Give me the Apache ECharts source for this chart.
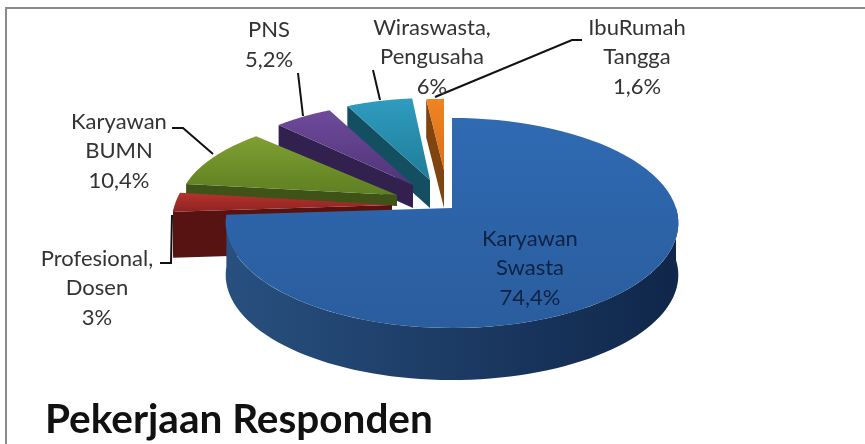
<!DOCTYPE html>
<html>
<head>
<meta charset="utf-8">
<style>html,body{margin:0;padding:0;background:#fff}#main{width:865px;height:444px}</style>
<script src="https://cdn.jsdelivr.net/npm/echarts@6/dist/echarts.min.js"></script>
</head>
<body>
<div id="main"></div>
<script>
var categories = ['Karyawan Swasta', 'Profesional, Dosen', 'Karyawan BUMN', 'PNS', 'Wiraswasta, Pengusaha', 'IbuRumah Tangga']
var values = [74.4, 3, 10.4, 5.2, 6, 1.6]
var labels = ['Karyawan\nSwasta\n74,4%', 'Profesional,\nDosen\n3%', 'Karyawan\nBUMN\n10,4%', 'PNS\n5,2%', 'Wiraswasta,\nPengusaha\n6%', 'IbuRumah\nTangga\n1,6%']
var topColors = [['#2f6ab2', '#2a5d9e'], ['#b5332e', '#8f2320'], ['#7f9f33', '#5f7f22'], ['#6f4a9c', '#4f3478'], ['#2f9cc0', '#1f7c98'], ['#ee8422', '#d9701a']]
var sideColors = ['#1c3d68', '#561311', '#3f5218', '#32204f', '#134f60', '#7f4410']
var labelColors = ['#0f2244', '#333', '#333', '#333', '#333', '#333']
var font = 'Lato, Open Sans, sans-serif'

// apex of each exploded slice, its scale and its thickness
var apex = [[452, 208], [392, 205], [397, 195], [413, 185], [430, 180], [444, 170]]
var scaleX = [1, 0.97, 0.965, 0.92, 0.91, 0.91]
var scaleY = [1, 1, 0.9, 0.92, 0.91, 0.79]
var depths = [52, 46, 11, 23, 28, 38]
// perspective of the old 3D view: far edge 90px, near edge 120px from the apex
var rx = 224, ry = 102.9, persp = 0.1428
var total = values.reduce(function (a, b) { return a + b }, 0)

// start/end angle of each slice, clockwise from the top
var angles = []
values.reduce(function (acc, v) {
  angles.push([acc, acc + v / total * Math.PI * 2])
  return acc + v / total * Math.PI * 2
}, 0)

function pt(i, a, dy) {
  var w = 1 + persp * Math.cos(a)
  return [
    apex[i][0] + rx * scaleX[i] * Math.sin(a) / w,
    apex[i][1] - ry * scaleY[i] * Math.cos(a) / w + (dy || 0)
  ]
}
function arc(i, a0, a1, dy) {
  var pts = []
  for (var k = 0; k <= 80; k++) pts.push(pt(i, a0 + (a1 - a0) * k / 80, dy))
  return pts
}
function grad(c0, c1, horizontal) {
  return new echarts.graphic.LinearGradient(0, 0, horizontal ? 1 : 0, horizontal ? 0 : 1, [
    { offset: 0, color: c0 }, { offset: 1, color: c1 }
  ])
}

function renderSlice(params, api) {
  var i = api.value(0)
  var a = angles[i]
  var d = depths[i]
  var c0 = apex[i], c1 = [c0[0], c0[1] + d]
  var children = []
  // cut wall on the side that faces us
  var p = pt(i, a[0])
  children.push({
    type: 'polygon',
    shape: { points: [c0, p, [p[0], p[1] + d], c1] },
    style: { fill: sideColors[i] }
  })
  // outer wall, only the front facing part of the arc
  var from = Math.max(a[0], Math.PI / 2), to = Math.min(a[1], Math.PI * 1.5)
  if (to > from) {
    children.push({
      type: 'polygon',
      shape: { points: arc(i, from, to, 0).concat(arc(i, to, from, d)) },
      style: { fill: i === 0 ? grad('#28507f', '#10264a', true) : sideColors[i] }
    })
  }
  children.push({
    type: 'polygon',
    shape: { points: [c0].concat(arc(i, a[0], a[1], 0)) },
    style: { fill: grad(topColors[i][0], topColors[i][1]) }
  })
  return { type: 'group', children: children }
}

// back slices first so that the big one sits in front
var order = [4, 5, 3, 2, 1, 0]
var seriesData = order.map(function (i) { return [i, values[i]] })

var labelPos = [[530, 268], [97, 288], [119, 151], [269, 45], [432, 57], [637, 57]]
var leaders = [
  null,
  [[160, 263], [171, 263], [172, 215]],
  [[172, 128], [183, 128], [213, 154]],
  [[298, 73], [303, 116]],
  [[373, 70], [380, 100]],
  [[582, 40], [572, 40], [435, 97]]
]
var graphics = [{
  type: 'rect',
  shape: { x: 6, y: 8, width: 870, height: 460 },
  style: { fill: 'none', stroke: '#8a8a8a', lineWidth: 2 },
  z: 1
}, {
  type: 'text', x: 45, y: 420,
  style: { text: 'Pekerjaan Responden', font: 'bold 40.5px ' + font, fill: '#111', verticalAlign: 'middle' },
  z: 20
}]
labels.forEach(function (t, i) {
  graphics.push({
    type: 'text', x: labelPos[i][0], y: labelPos[i][1],
    style: { text: t, font: '22px ' + font, fill: labelColors[i], align: 'center', verticalAlign: 'middle', lineHeight: 29.5 },
    z: 20
  })
  if (leaders[i]) {
    graphics.push({
      type: 'polyline', shape: { points: leaders[i] },
      style: { stroke: '#111', lineWidth: 2, fill: 'none' }, z: 19
    })
  }
})

var chart = echarts.init(document.getElementById('main'))
chart.setOption({
  animation: false,
  graphic: graphics,
  series: [{
    type: 'custom',
    coordinateSystem: 'none',
    renderItem: renderSlice,
    encode: { value: 1 },
    data: seriesData,
    z: 5
  }]
})
</script>
</body>
</html>
